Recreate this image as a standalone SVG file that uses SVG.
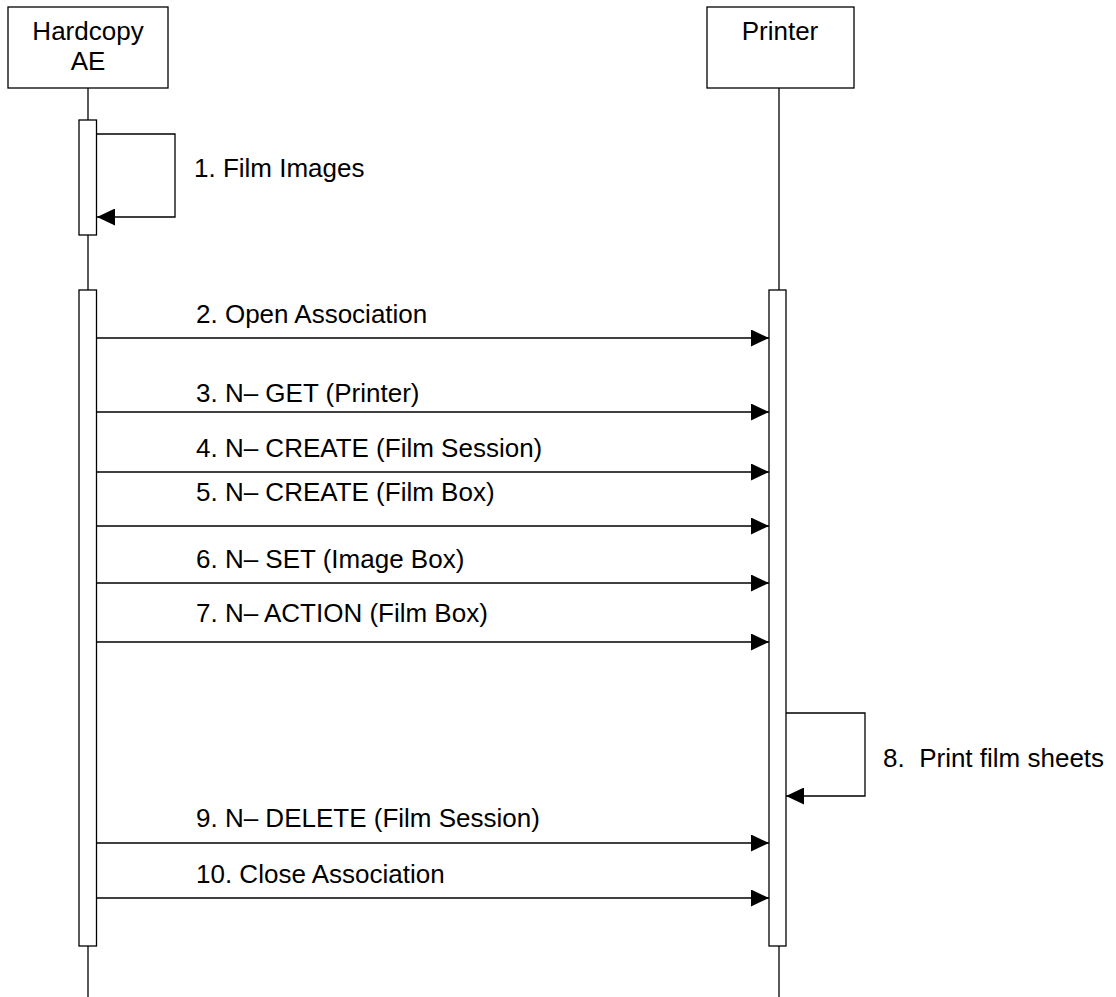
<svg xmlns="http://www.w3.org/2000/svg" width="1116" height="997" viewBox="0 0 1116 997">
<style>
.box{fill:#fff;stroke:#000;stroke-width:1.3}
.ln{fill:none;stroke:#000;stroke-width:1.3}
.t{font-family:"Liberation Sans",Arial,sans-serif;font-size:26px;fill:#000}
.c{text-anchor:middle}
</style>
<defs>
<marker id="ah" markerUnits="userSpaceOnUse" markerWidth="18" markerHeight="17" refX="18" refY="8.5" orient="auto">
<path d="M0,0 L18,8.5 L0,17 z" fill="#000"/>
</marker>
</defs>
<rect width="1116" height="997" fill="#fff"/>
<g id="hardcopy">
<rect class="box" x="8" y="7" width="160" height="81"/>
<text class="t c" x="88" y="40">Hardcopy</text>
<text class="t c" x="88" y="70">AE</text>
<line class="ln" x1="88" y1="88" x2="88" y2="120"/>
<line class="ln" x1="88" y1="235" x2="88" y2="290"/>
<line class="ln" x1="88" y1="946" x2="88" y2="997"/>
<rect class="box" x="79" y="120" width="17.5" height="115"/>
<rect class="box" x="79" y="290" width="17.5" height="656"/>
</g>
<g id="printer">
<rect class="box" x="707" y="7" width="147" height="81"/>
<text class="t c" x="780" y="40">Printer</text>
<line class="ln" x1="779" y1="88" x2="779" y2="290"/>
<line class="ln" x1="779" y1="946" x2="779" y2="997"/>
<rect class="box" x="769" y="290" width="17" height="656"/>
</g>
<g id="connectors">
<polyline class="ln" points="97,134 175,134 175,217 97,217" marker-end="url(#ah)"/>
<line class="ln" x1="97" y1="338" x2="769" y2="338" marker-end="url(#ah)"/>
<line class="ln" x1="97" y1="412" x2="769" y2="412" marker-end="url(#ah)"/>
<line class="ln" x1="97" y1="472" x2="769" y2="472" marker-end="url(#ah)"/>
<line class="ln" x1="97" y1="526" x2="769" y2="526" marker-end="url(#ah)"/>
<line class="ln" x1="97" y1="583" x2="769" y2="583" marker-end="url(#ah)"/>
<line class="ln" x1="97" y1="642" x2="769" y2="642" marker-end="url(#ah)"/>
<polyline class="ln" points="786,713 865,713 865,796 786,796" marker-end="url(#ah)"/>
<line class="ln" x1="97" y1="843" x2="769" y2="843" marker-end="url(#ah)"/>
<line class="ln" x1="97" y1="898" x2="769" y2="898" marker-end="url(#ah)"/>
</g>
<g id="labels">
<text class="t" x="194" y="177">1. Film Images</text>
<text class="t" x="196" y="323">2. Open Association</text>
<text class="t" x="196" y="402">3. N– GET (Printer)</text>
<text class="t" x="196" y="457">4. N– CREATE (Film Session)</text>
<text class="t" x="196" y="501">5. N– CREATE (Film Box)</text>
<text class="t" x="196" y="568">6. N– SET (Image Box)</text>
<text class="t" x="196" y="622">7. N– ACTION (Film Box)</text>
<text class="t" x="883" y="767" xml:space="preserve">8.  Print film sheets</text>
<text class="t" x="196" y="827">9. N– DELETE (Film Session)</text>
<text class="t" x="196" y="883">10. Close Association</text>
</g>
</svg>
